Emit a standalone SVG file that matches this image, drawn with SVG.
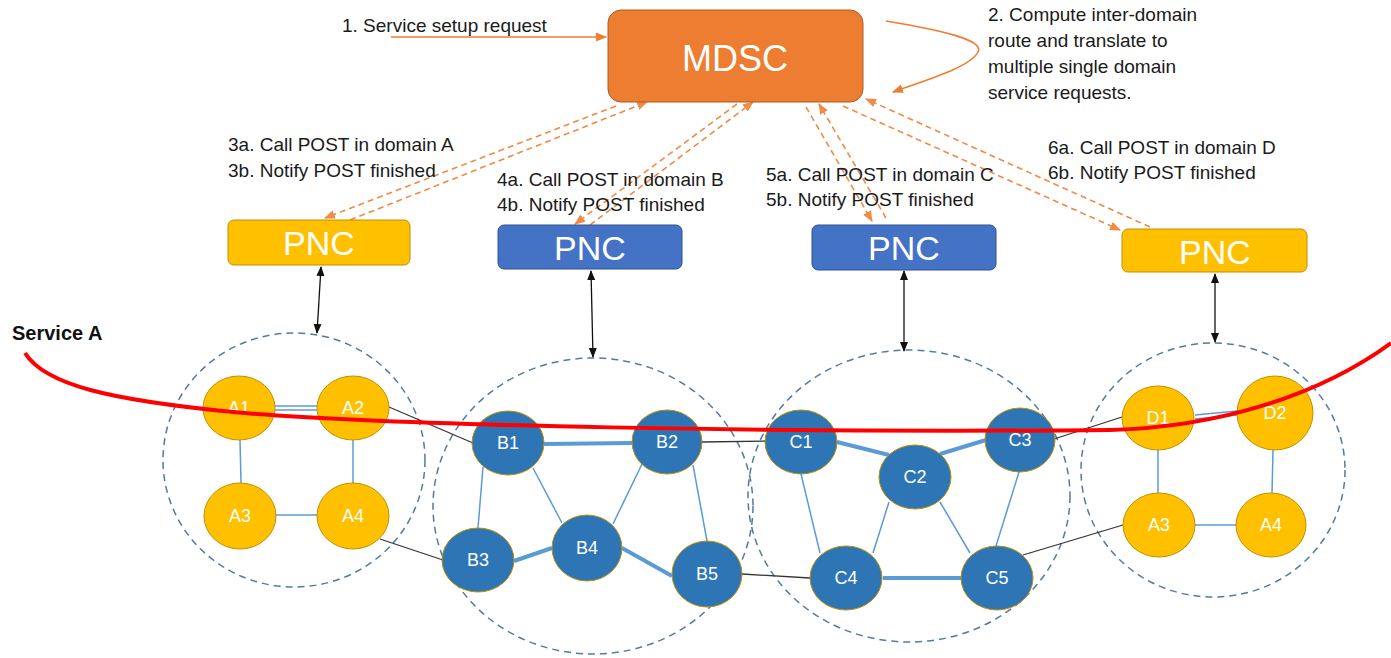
<svg xmlns="http://www.w3.org/2000/svg" width="1391" height="658" viewBox="0 0 1391 658">
<style>
.lbl{font-family:"Liberation Sans",Arial,sans-serif;font-size:19px;fill:#1a1a1a}
.big{font-family:"Liberation Sans",Arial,sans-serif;fill:#fff;text-anchor:middle}
.nt{font-family:"Liberation Sans",Arial,sans-serif;font-size:18px;fill:#fff;text-anchor:middle}
.dom{fill:none;stroke:#5579a0;stroke-width:1.5;stroke-dasharray:7 5}
.ny{fill:#FFC000;stroke:#BF9000;stroke-width:1}
.nb{fill:#2E75B6;stroke:#BF9000;stroke-width:1}
.pny{fill:#FFC000;stroke:#BF9000;stroke-width:1}
.pnb{fill:#4472C4;stroke:#2F528F;stroke-width:1}
.thin{stroke:#5B9BD5;stroke-width:1.5;fill:none}
.thick{stroke:#5B9BD5;stroke-width:4;fill:none}
.ext{stroke:#333;stroke-width:1.3;fill:none}
.dash{stroke:#F08A45;stroke-width:1.6;stroke-dasharray:6 4;fill:none}
.solid{stroke:#ED7D31;stroke-width:1.6;fill:none}
.ctl{stroke:#111;stroke-width:1.3;fill:none}
</style>
<defs>
<marker id="ao" viewBox="0 0 10 10" refX="9" refY="5" markerWidth="11" markerHeight="11" markerUnits="userSpaceOnUse" orient="auto"><path d="M0,1 L10,5 L0,9 z" fill="#ED7D31"/></marker>
<marker id="ad" viewBox="0 0 10 10" refX="9" refY="5" markerWidth="11" markerHeight="11" markerUnits="userSpaceOnUse" orient="auto"><path d="M0,1 L10,5 L0,9 z" fill="#F08A45"/></marker>
<marker id="ab" viewBox="0 0 10 10" refX="9" refY="5" markerWidth="10" markerHeight="10" markerUnits="userSpaceOnUse" orient="auto-start-reverse"><path d="M0,1 L10,5 L0,9 z" fill="#111"/></marker>
</defs>
<rect width="1391" height="658" fill="#fff"/>

<!-- domain circles -->
<g id="domains">
<ellipse id="domA" class="dom" cx="294" cy="460" rx="131" ry="127"/>
<ellipse id="domB" class="dom" cx="593" cy="506" rx="160" ry="148"/>
<ellipse id="domC" class="dom" cx="909" cy="496" rx="161" ry="146"/>
<ellipse id="domD" class="dom" cx="1213" cy="470" rx="132" ry="127"/>
</g>

<g id="connectors">
<!-- orchestration arrows -->
<line class="solid" x1="391" y1="37" x2="606" y2="37" marker-end="url(#ao)"/>
<path class="solid" d="M886,21 C940,30 985,40 978,52 C970,68 920,82 893,92" marker-end="url(#ao)"/>
<line class="dash" x1="616" y1="106" x2="325" y2="218" marker-end="url(#ad)"/>
<line class="dash" x1="350" y1="220" x2="647" y2="102" marker-end="url(#ad)"/>
<line class="dash" x1="737" y1="104" x2="575" y2="224" marker-end="url(#ad)"/>
<line class="dash" x1="590" y1="225" x2="753" y2="102" marker-end="url(#ad)"/>
<line class="dash" x1="806" y1="107" x2="872" y2="221" marker-end="url(#ad)"/>
<line class="dash" x1="886" y1="218" x2="819" y2="104" marker-end="url(#ad)"/>
<line class="dash" x1="843" y1="106" x2="1120" y2="230" marker-end="url(#ad)"/>
<line class="dash" x1="1150" y1="227" x2="866" y2="99" marker-end="url(#ad)"/>
<!-- PNC to domain -->
<line class="ctl" x1="321" y1="267" x2="317" y2="333" marker-start="url(#ab)" marker-end="url(#ab)"/>
<line class="ctl" x1="591" y1="271" x2="593" y2="357" marker-start="url(#ab)" marker-end="url(#ab)"/>
<line class="ctl" x1="904" y1="271" x2="904" y2="351" marker-start="url(#ab)" marker-end="url(#ab)"/>
<line class="ctl" x1="1215" y1="274" x2="1215" y2="342" marker-start="url(#ab)" marker-end="url(#ab)"/>
<!-- domain A links -->
<line class="thin" x1="275" y1="406" x2="317" y2="406"/>
<line class="thin" x1="275" y1="410" x2="317" y2="410"/>
<line class="thin" x1="240" y1="440" x2="241" y2="483"/>
<line class="thin" x1="353" y1="440" x2="353" y2="483"/>
<line class="thin" x1="276" y1="515" x2="317" y2="515"/>
<!-- domain B links -->
<line class="thick" x1="544" y1="444" x2="632" y2="443"/>
<line class="thin" x1="483" y1="467" x2="478" y2="528"/>
<line class="thin" x1="533" y1="468" x2="562" y2="523"/>
<line class="thin" x1="642" y1="464" x2="613" y2="524"/>
<line class="thin" x1="693" y1="465" x2="707" y2="541"/>
<line class="thick" x1="514" y1="561" x2="552" y2="548"/>
<line class="thick" x1="622" y1="548" x2="672" y2="576"/>
<!-- domain C links -->
<line class="thick" x1="837" y1="442" x2="889" y2="455"/>
<line class="thick" x1="940" y1="454" x2="986" y2="440"/>
<line class="thin" x1="801" y1="474" x2="820" y2="553"/>
<line class="thin" x1="889" y1="502" x2="873" y2="553"/>
<line class="thin" x1="940" y1="502" x2="970" y2="553"/>
<line class="thin" x1="1019" y1="472" x2="996" y2="546"/>
<line class="thick" x1="883" y1="578" x2="961" y2="578"/>
<!-- domain D links -->
<line class="thin" x1="1195" y1="415" x2="1237" y2="411"/>
<line class="thin" x1="1195" y1="419" x2="1237" y2="415"/>
<line class="thin" x1="1158" y1="450" x2="1158" y2="493"/>
<line class="thin" x1="1273" y1="450" x2="1272" y2="493"/>
<line class="thin" x1="1195" y1="525" x2="1236" y2="525"/>
<!-- inter-domain links -->
<line class="ext" x1="389" y1="407" x2="473" y2="443"/>
<line class="ext" x1="380" y1="539" x2="443" y2="560"/>
<line class="ext" x1="702" y1="442" x2="767" y2="441"/>
<line class="ext" x1="742" y1="574" x2="810" y2="578"/>
<line class="ext" x1="1054" y1="439" x2="1122" y2="417"/>
<line class="ext" x1="1023" y1="555" x2="1123" y2="525"/>
</g>

<g id="MDSC">
<rect x="608" y="10" width="255" height="92" rx="13" fill="#ED7D31" stroke="#AE5A21" stroke-width="1"/>
<text class="big" x="735" y="71" font-size="36">MDSC</text>
</g>

<g id="PNC_A"><rect class="pny" x="228" y="220" width="182" height="45" rx="6"/><text class="big" x="319" y="255" font-size="34">PNC</text></g>
<g id="PNC_B"><rect class="pnb" x="498" y="225" width="184" height="44" rx="6"/><text class="big" x="590" y="260" font-size="34">PNC</text></g>
<g id="PNC_C"><rect class="pnb" x="812" y="225" width="184" height="45" rx="6"/><text class="big" x="904" y="260" font-size="34">PNC</text></g>
<g id="PNC_D"><rect class="pny" x="1122" y="229" width="185" height="43" rx="6"/><text class="big" x="1215" y="264" font-size="34">PNC</text></g>

<g id="A1"><ellipse class="ny" cx="239" cy="408" rx="36" ry="32"/><text class="nt" x="239" y="414">A1</text></g>
<g id="A2"><ellipse class="ny" cx="353" cy="408" rx="36" ry="32"/><text class="nt" x="353" y="414">A2</text></g>
<g id="A3"><ellipse class="ny" cx="240" cy="516" rx="36" ry="33"/><text class="nt" x="240" y="522">A3</text></g>
<g id="A4"><ellipse class="ny" cx="353" cy="516" rx="36" ry="33"/><text class="nt" x="353" y="522">A4</text></g>

<g id="B1"><ellipse class="nb" cx="508" cy="443" rx="36" ry="32"/><text class="nt" x="508" y="449">B1</text></g>
<g id="B2"><ellipse class="nb" cx="667" cy="442" rx="35" ry="32"/><text class="nt" x="667" y="448">B2</text></g>
<g id="B3"><ellipse class="nb" cx="478" cy="560" rx="36" ry="32"/><text class="nt" x="478" y="566">B3</text></g>
<g id="B4"><ellipse class="nb" cx="587" cy="548" rx="35" ry="33"/><text class="nt" x="587" y="554">B4</text></g>
<g id="B5"><ellipse class="nb" cx="707" cy="574" rx="35" ry="33"/><text class="nt" x="707" y="580">B5</text></g>

<g id="C1"><ellipse class="nb" cx="801" cy="442" rx="36" ry="32"/><text class="nt" x="801" y="448">C1</text></g>
<g id="C2"><ellipse class="nb" cx="915" cy="477" rx="36" ry="32"/><text class="nt" x="915" y="483">C2</text></g>
<g id="C3"><ellipse class="nb" cx="1020" cy="440" rx="35" ry="32"/><text class="nt" x="1020" y="446">C3</text></g>
<g id="C4"><ellipse class="nb" cx="846" cy="578" rx="36" ry="32"/><text class="nt" x="846" y="584">C4</text></g>
<g id="C5"><ellipse class="nb" cx="997" cy="578" rx="36" ry="32"/><text class="nt" x="997" y="584">C5</text></g>

<g id="D1"><ellipse class="ny" cx="1158" cy="418" rx="36" ry="32"/><text class="nt" x="1158" y="424">D1</text></g>
<g id="D2"><ellipse class="ny" cx="1275" cy="413" rx="38" ry="37"/><text class="nt" x="1275" y="419">D2</text></g>
<g id="D_A3"><ellipse class="ny" cx="1159" cy="525" rx="36" ry="32"/><text class="nt" x="1159" y="531">A3</text></g>
<g id="D_A4"><ellipse class="ny" cx="1271" cy="525" rx="35" ry="32"/><text class="nt" x="1271" y="531">A4</text></g>

<g id="serviceA">
<path d="M25,353 C45,385 110,400 233,412 C380,426 800,433 1110,430 C1220,427 1320,395 1391,343" fill="none" stroke="#FF0000" stroke-width="4"/>
<text x="12" y="340" font-family="'Liberation Sans',Arial,sans-serif" font-size="20" font-weight="bold" fill="#111">Service A</text>
</g>

<g id="labels">
<text class="lbl" x="342" y="32">1. Service setup request</text>
<text class="lbl" x="988" y="21">2. Compute inter-domain</text>
<text class="lbl" x="988" y="47">route and translate to</text>
<text class="lbl" x="988" y="73">multiple single domain</text>
<text class="lbl" x="988" y="99">service requests.</text>
<text class="lbl" x="228" y="151">3a. Call POST in domain A</text>
<text class="lbl" x="228" y="177">3b. Notify POST finished</text>
<text class="lbl" x="497" y="186">4a. Call POST in domain B</text>
<text class="lbl" x="497" y="211">4b. Notify POST finished</text>
<text class="lbl" x="766" y="181">5a. Call POST in domain C</text>
<text class="lbl" x="766" y="206">5b. Notify POST finished</text>
<text class="lbl" x="1048" y="154">6a. Call POST in domain D</text>
<text class="lbl" x="1048" y="179">6b. Notify POST finished</text>
</g>
</svg>
